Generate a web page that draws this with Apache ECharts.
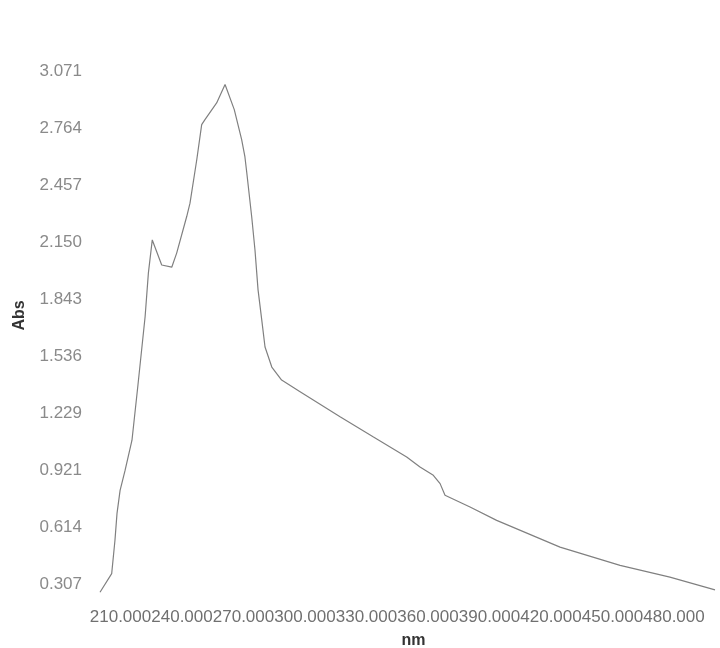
<!DOCTYPE html>
<html>
<head>
<meta charset="utf-8">
<title>Abs spectrum</title>
<script src="https://cdn.jsdelivr.net/npm/echarts@6/dist/echarts.min.js"></script>
<style>
  html, body { margin: 0; padding: 0; background: #fff; }
  #chart { width: 720px; height: 648px; }
</style>
</head>
<body>
<div id="chart"></div>
<script>
// wavelength (nm) and absorbance
const wavelengths = [200, 205.7, 207.3, 208.3, 209.8, 212.2, 215.6, 218.5, 222, 223.6, 225.5,
  230.1, 235, 237.4, 242.3, 243.9, 247.2, 249.6, 251.2, 256.9, 261, 265.5, 269.1, 270.7,
  271.6, 274, 275.6, 277.1, 278.9, 280.5, 283.8, 288.6, 297.6, 317.1, 333.2, 349.6, 356.1,
  362.6, 365.9, 368.3, 380.5, 393.5, 424.4, 453.7, 478, 500]
const absValues = [0.265, 0.365, 0.545, 0.69, 0.814, 0.92, 1.084, 1.38, 1.749, 1.984, 2.163,
  2.028, 2.016, 2.092, 2.289, 2.361, 2.595, 2.784, 2.811, 2.901, 3.0, 2.865, 2.703, 2.61,
  2.525, 2.288, 2.109, 1.894, 1.732, 1.586, 1.478, 1.408, 1.345, 1.21, 1.102, 0.994, 0.94,
  0.895, 0.85, 0.787, 0.724, 0.652, 0.508, 0.41, 0.346, 0.278]
// tick positions
const xTicks = [210, 240, 270, 300, 330, 360, 390, 420, 450, 480]
const yTicks = [0.30714, 0.61428, 0.92142, 1.22856, 1.5357, 1.84284, 2.14998, 2.45712, 2.76426, 3.0714]

const chart = echarts.init(document.getElementById('chart'))

const points = wavelengths.map((w, i) => [w, absValues[i]])

const option = {
  animation: false,
  backgroundColor: '#fff',
  grid: {
    left: 100,
    right: 5,
    top: 66,
    bottom: 53,
    outerBoundsMode: 'none'
  },
  xAxis: {
    type: 'value',
    min: 200,
    max: 500,
    name: 'nm',
    nameLocation: 'middle',
    nameGap: 38,
    nameTextStyle: {
      color: '#333',
      fontSize: 16,
      fontWeight: 'bold',
      fontFamily: 'Liberation Sans',
      padding: [0, 0, 0, 12]
    },
    axisLine: { show: false },
    axisTick: { show: false },
    splitLine: { show: false },
    axisLabel: {
      customValues: xTicks,
      margin: 14,
      color: '#707070',
      fontSize: 17,
      fontFamily: 'Liberation Sans',
      formatter: (v) => v.toFixed(3)
    }
  },
  yAxis: {
    type: 'value',
    min: 0.25,
    max: 3.1,
    name: 'Abs',
    nameLocation: 'middle',
    nameGap: 72,
    nameTextStyle: {
      color: '#333',
      fontSize: 16,
      fontWeight: 'bold',
      fontFamily: 'Liberation Sans',
      padding: [0, 0, 0, 30]
    },
    axisLine: { show: false },
    axisTick: { show: false },
    splitLine: { show: false },
    axisLabel: {
      customValues: yTicks,
      margin: 18,
      color: '#8a8a8a',
      fontSize: 17,
      fontFamily: 'Liberation Sans',
      formatter: (v) => v.toFixed(3)
    }
  },
  series: [
    {
      type: 'line',
      data: points,
      showSymbol: false,
      lineStyle: {
        color: '#808080',
        width: 1.2
      }
    }
  ]
}

chart.setOption(option)
</script>
</body>
</html>
